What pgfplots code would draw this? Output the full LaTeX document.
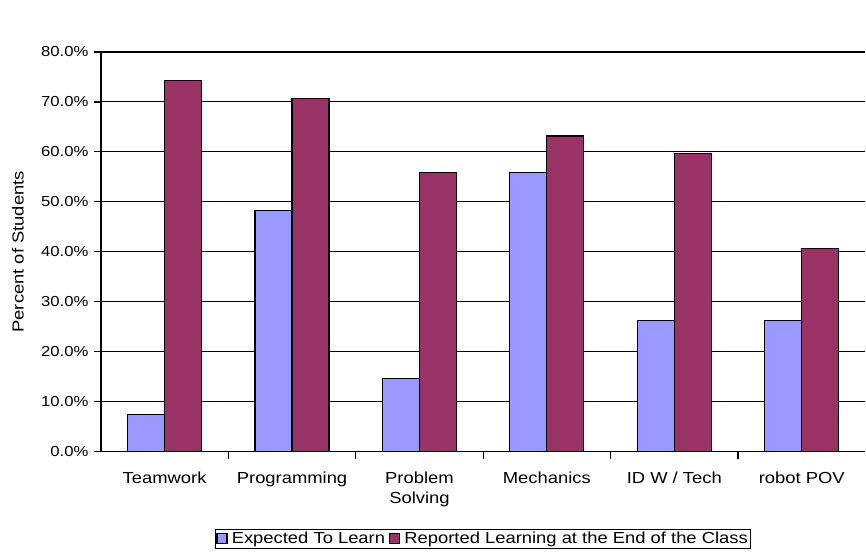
\documentclass[border=0pt]{standalone}
\usepackage{fontspec}
\setmainfont{Liberation Sans}[FakeStretch=1.15]
\usepackage{pgfplots}
\pgfplotsset{compat=1.18}
\definecolor{expc}{HTML}{9999FF}
\definecolor{repc}{HTML}{993366}
\begin{document}
\begin{tikzpicture}
\begin{axis}[
  scale only axis,
  width=765pt, height=400pt,
  xmin=-0.5, xmax=5.5,
  ymin=0, ymax=80,
  ybar=0pt, bar width=37pt,
  axis lines*=left,
  axis line style={black, line width=1.2pt},
  xtick={0,1,2,3,4,5},
  xticklabels={Teamwork,Programming,{Problem\\Solving},Mechanics,{ID W / Tech},robot POV},
  xticklabel style={align=center, font=\fontsize{16}{20}\selectfont, yshift=-10pt},
  major x tick style={draw=none},
  minor xtick={0.5,1.5,2.5,3.5,4.5},
  minor x tick style={black, line width=1.2pt},
  minor tick length=7pt,
  ytick={0,10,...,80},
  yticklabel={\pgfmathprintnumber[fixed,fixed zerofill,precision=1]{\tick}\%},
  yticklabel style={font=\fontsize{14.5}{16}\selectfont, xshift=-2pt},
  major y tick style={black, line width=1.2pt},
  major tick length=7pt,
  tick align=outside,
  /pgf/number format/assume math mode=true,
  ymajorgrids,
  grid style={black, line width=1.1pt},
  ylabel={Percent of Students},
  ylabel style={at={(axis description cs:-0.1085,0.5)}, anchor=center, font=\fontsize{16}{18}\selectfont},
  legend style={at={(axis description cs:0.5,0)}, anchor=north, yshift=-77pt,
    draw=black, line width=0.8pt, font=\fontsize{16}{18}\selectfont,
    inner sep=1pt, column sep=2pt},
  legend columns=-1,
  legend image code/.code={\draw[#1, line width=1.3pt, draw=black] (0pt,-5pt) rectangle (10pt,5pt);},
  clip=false,
]
\addplot[fill=expc, draw=black, line width=1.2pt] coordinates {(0,7.5) (1,48.2) (2,14.7) (3,55.9) (4,26.2) (5,26.2)};
\addplot[fill=repc, draw=black, line width=1.2pt] coordinates {(0,74.3) (1,70.7) (2,55.9) (3,63.2) (4,59.7) (5,40.7)};
\legend{Expected To Learn,Reported Learning at the End of the Class}
\end{axis}
\useasboundingbox (current axis.south west) ++(-101pt,-103pt) rectangle ([xshift=0pt,yshift=52pt]current axis.north east);
\end{tikzpicture}
\end{document}
